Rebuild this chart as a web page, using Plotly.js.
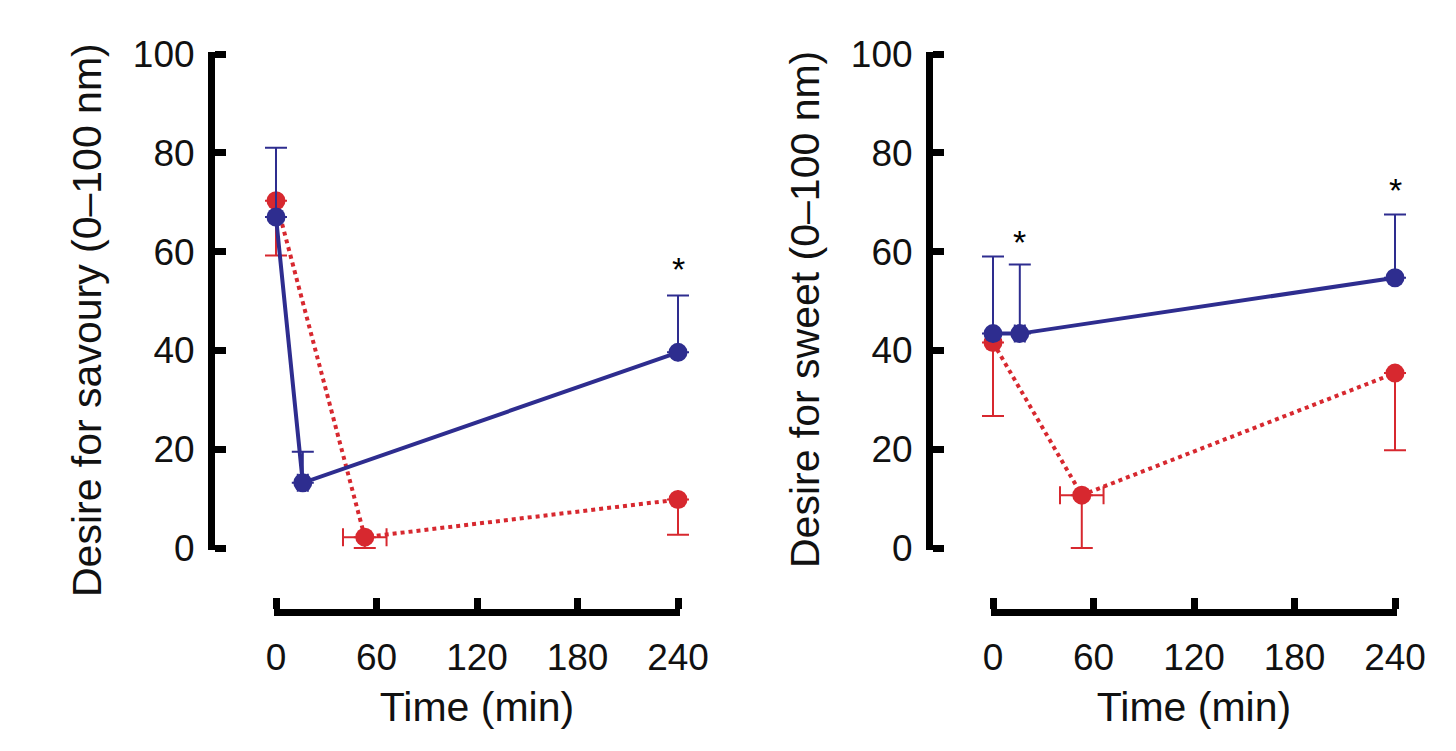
<!DOCTYPE html>
<html>
<head>
<meta charset="utf-8">
<script src="https://cdn.plot.ly/plotly-3.0.1.min.js"></script>
<style>
  html, body { margin: 0; padding: 0; background: #fff; }
  #chart { width: 1456px; height: 751px; }
</style>
</head>
<body>
<div id="chart"></div>
<script>
// values
var timeTicks = [0, 60, 120, 180, 240];
var yTicks = [0, 20, 40, 60, 80, 100];

// desire for savoury
var savBlueTime = [0, 16, 240];
var savBlue = [67, 13.2, 39.6];
var savBlueUp = [14, 6.3, 11.5];
var savBlueTimeErr = [0, 3, 0];

var savRedTime = [0, 53, 240];
var savRed = [70.3, 2.2, 9.8];
var savRedDown = [11.1, 2.2, 7.1];
var savRedTimeErr = [0, 13, 0];

// desire for sweet
var swtBlueTime = [0, 16, 240];
var swtBlue = [43.4, 43.4, 54.7];
var swtBlueUp = [15.6, 14, 12.8];
var swtBlueTimeErr = [0, 3, 0];

var swtRedTime = [0, 53, 240];
var swtRed = [41.6, 10.7, 35.4];
var swtRedDown = [14.9, 10.7, 15.6];
var swtRedTimeErr = [0, 13, 0];

// significance stars
var starSavTime = [240];
var starSavY = [56.5];
var starSwtTime = [16, 240];
var starSwtY = [62, 72.5];

var blue = '#2e2d8f';
var red = '#d7282f';
var font = 'Liberation Sans, Arial, sans-serif';

function series(x, y, up, down, xerr, color, dash, xa, ya) {
    return {
        x: x, y: y,
        xaxis: xa, yaxis: ya,
        type: 'scatter',
        mode: 'lines+markers',
        cliponaxis: false,
        showlegend: false,
        line: {color: color, width: 4, dash: dash},
        marker: {color: color, size: 19},
        error_y: {type: 'data', symmetric: false, array: up, arrayminus: down,
                  color: color, thickness: 2, width: 11},
        error_x: {type: 'data', array: xerr, color: color, thickness: 2, width: 9}
    };
}

function zeros(n) { var a = []; for (var i = 0; i < n; i++) a.push(0); return a; }

var data = [
    series(savRedTime, savRed, zeros(3), savRedDown, savRedTimeErr, red, 'dot', 'x', 'y'),
    series(savBlueTime, savBlue, savBlueUp, zeros(3), savBlueTimeErr, blue, 'solid', 'x', 'y'),
    series(swtRedTime, swtRed, zeros(3), swtRedDown, swtRedTimeErr, red, 'dot', 'x2', 'y2'),
    series(swtBlueTime, swtBlue, swtBlueUp, zeros(3), swtBlueTimeErr, blue, 'solid', 'x2', 'y2'),
    // empty traces so the time axes (which stop at 0 and 240) get drawn
    {x: [], y: [], xaxis: 'x3', yaxis: 'y', type: 'scatter', showlegend: false},
    {x: [], y: [], xaxis: 'x4', yaxis: 'y2', type: 'scatter', showlegend: false}
];

var W = 1456, H = 751;
function px(v) { return v / W; }
function py(v) { return 1 - v / H; }

var pad = 12;   // minutes of room either side so end markers and caps are not cut
var tEps = 1.3; // small overhang so plotly keeps the end ticks at 0 and 240
var yEps = 0.4;

// hidden axis the data is plotted on
function dataAxis(d0, d1) {
    var k = (d1 - d0) / 240;
    return {
        domain: [px(d0 - pad * k), px(d1 + pad * k)],
        range: [-pad, 240 + pad],
        visible: false
    };
}

// the drawn time axis
function timeAxis(d0, d1) {
    var k = (d1 - d0) / 240;
    return {
        domain: [px(d0 - tEps * k), px(d1 + tEps * k)],
        range: [-tEps, 240 + tEps],
        anchor: 'free',
        position: py(612),
        tickvals: timeTicks,
        ticks: 'inside', ticklen: 11, tickwidth: 7, tickcolor: '#000',
        showline: true, linewidth: 7, linecolor: '#000',
        showgrid: false, zeroline: false,
        ticklabelstandoff: 10,
        tickfont: {family: font, size: 37, color: '#111'},
        title: {text: 'Time (min)', font: {family: font, size: 41, color: '#111'}, standoff: 14}
    };
}

function yAxis(pos) {
    var k = (548 - 54) / 100;
    return {
        domain: [py(548 + yEps * k), py(54 - yEps * k)],
        range: [-yEps, 100 + yEps],
        anchor: 'free',
        position: px(pos),
        tickvals: yTicks,
        ticks: 'inside', ticklen: 11, tickwidth: 7, tickcolor: '#000',
        showline: true, linewidth: 7, linecolor: '#000',
        showgrid: false, zeroline: false,
        ticklabelstandoff: 6,
        tickfont: {family: font, size: 37, color: '#111'}
    };
}

var annotations = [];
function stars(xs, ys, xa, ya) {
    for (var i = 0; i < xs.length; i++) {
        annotations.push({x: xs[i], y: ys[i], xref: xa, yref: ya, text: '*',
            showarrow: false, font: {family: font, size: 34, color: '#000'}});
    }
}
stars(starSavTime, starSavY, 'x', 'y');
stars(starSwtTime, starSwtY, 'x2', 'y2');

annotations.push({x: px(87), y: py(320), xref: 'paper', yref: 'paper', textangle: -90,
    xanchor: 'center', yanchor: 'middle',
    text: 'Desire for savoury (0\u2013100 nm)', showarrow: false,
    font: {family: font, size: 41, color: '#111'}});
annotations.push({x: px(805), y: py(310), xref: 'paper', yref: 'paper', textangle: -90,
    xanchor: 'center', yanchor: 'middle',
    text: 'Desire for sweet (0\u2013100 nm)', showarrow: false,
    font: {family: font, size: 41, color: '#111'}});

var layout = {
    width: W, height: H,
    margin: {l: 0, r: 0, t: 0, b: 0},
    paper_bgcolor: '#fff',
    plot_bgcolor: 'rgba(0,0,0,0)', // transparent so the axis-only subplots do not cover the data
    xaxis: dataAxis(276, 678),
    xaxis2: dataAxis(993, 1395),
    xaxis3: timeAxis(276, 678),
    xaxis4: timeAxis(993, 1395),
    yaxis: yAxis(211),
    yaxis2: yAxis(929),
    annotations: annotations
};

Plotly.newPlot('chart', data, layout, {staticPlot: true});
</script>
</body>
</html>
